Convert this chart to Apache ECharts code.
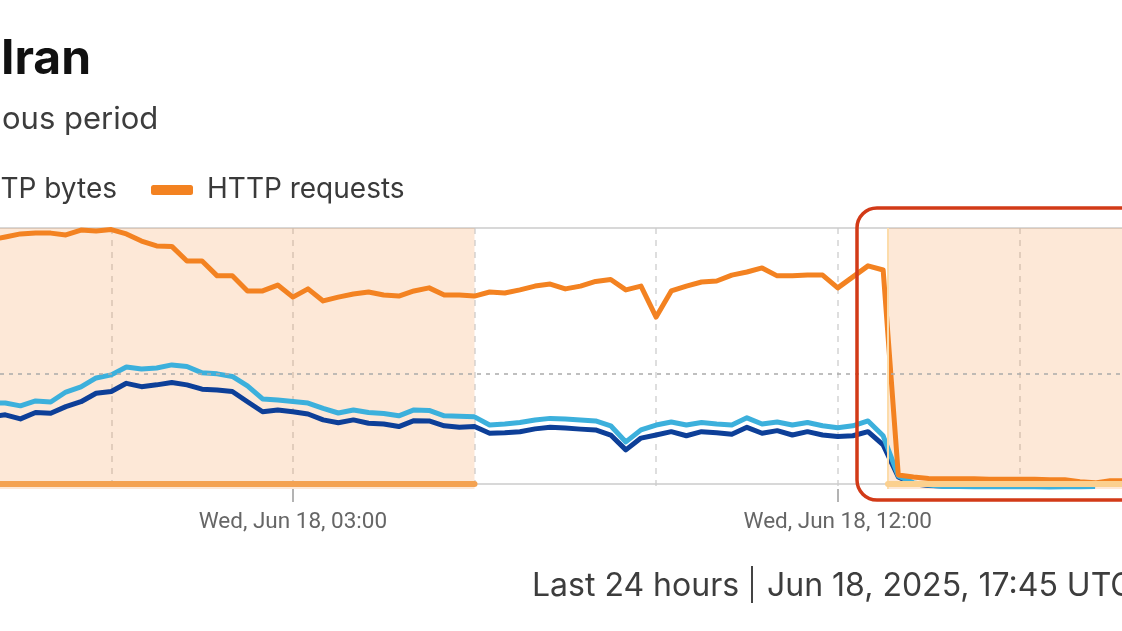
<!DOCTYPE html>
<html>
<head>
<meta charset="utf-8">
<title>Iran - traffic</title>
<script src="https://cdn.jsdelivr.net/npm/echarts@6/dist/echarts.min.js"></script>
<style>
  html, body { margin: 0; padding: 0; background: #fff; }
  #trafficChart { width: 1122px; height: 631px; }
</style>
</head>
<body>
<div id="trafficChart"></div>
<script>
var trafficChart = echarts.init(document.getElementById("trafficChart"));

// hours relative to Jun 18 2025 00:00 UTC, one point every 15 minutes
var startHour = -2;
var stepHours = 0.25;

var totalBytes = [
  26.3, 27.0, 25.4, 27.9, 27.6, 30.2, 32.1, 35.4,
  36.1, 39.3, 38.0, 38.7, 39.6, 38.7, 37.0, 36.7,
  36.1, 32.1, 28.2, 28.9, 28.2, 27.3, 25.0, 23.9,
  25.0, 23.7, 23.4, 22.4, 24.7, 24.6, 22.7, 22.1,
  22.4, 19.8, 20.0, 20.4, 21.5, 22.1, 21.8, 21.4,
  21.1, 19.1, 13.3, 17.9, 19.1, 20.4, 18.8, 20.4,
  20.0, 19.4, 22.1, 19.8, 20.8, 19.1, 20.4, 19.1,
  18.5, 18.8, 20.4, 15.2, 2.7, 0.0, -0.6, -0.8,
  -0.8, -0.8, -0.8, -0.8, -0.8, -0.8, -0.8, -0.8,
  -0.8, -0.8
];
var httpBytes = [
  31.6, 31.6, 30.5, 32.4, 32.0, 35.9, 37.9, 41.4,
  42.6, 45.7, 44.9, 45.3, 46.5, 45.9, 43.4, 43.0,
  42.0, 38.3, 33.2, 32.8, 32.2, 31.6, 29.5, 27.7,
  28.9, 27.9, 27.5, 26.6, 28.9, 28.7, 26.6, 26.4,
  26.2, 23.0, 23.4, 24.0, 25.0, 25.6, 25.4, 25.0,
  24.6, 22.7, 16.4, 21.1, 23.0, 24.2, 23.0, 24.0,
  23.4, 23.0, 25.8, 23.4, 24.2, 23.0, 24.0, 22.7,
  21.9, 22.7, 24.6, 18.8, 3.1, 0.4, -0.4, -1.0,
  -1.0, -1.1, -1.1, -1.0, -1.1, -1.1, -1.2, -1.1,
  -1.1, -1.0
];
var httpRequests = [
  95.3, 96.5, 97.7, 98.0, 98.0, 97.3, 99.2, 98.8,
  99.4, 97.7, 94.9, 93.0, 92.8, 87.1, 87.1, 81.3,
  81.3, 75.4, 75.4, 77.7, 73.0, 76.2, 71.5, 73.0,
  74.2, 75.0, 73.8, 73.4, 75.4, 76.6, 73.8, 73.8,
  73.4, 75.0, 74.6, 75.8, 77.3, 78.1, 76.2, 77.3,
  79.1, 79.9, 75.8, 77.3, 65.2, 75.4, 77.3, 78.9,
  79.3, 81.6, 82.8, 84.4, 81.3, 81.3, 81.6, 81.6,
  76.6, 80.9, 85.2, 83.6, 3.5, 2.7, 2.1, 2.0,
  2.0, 2.0, 1.8, 1.8, 1.8, 1.8, 1.6, 1.6,
  0.8, 0.4, 1.2, 1.2
];

// shaded periods (hours), the second one is the outage
var shadedFrom = [-6, 12.83];
var shadedTo = [6, 18];

var dayNames = ['Sun', 'Mon', 'Tue', 'Wed', 'Thu', 'Fri', 'Sat'];
var monthNames = ['Jan', 'Feb', 'Mar', 'Apr', 'May', 'Jun', 'Jul', 'Aug', 'Sep', 'Oct', 'Nov', 'Dec'];

function pad(n) {
  return n < 10 ? '0' + n : '' + n;
}

function formatHour(h) {
  var d = new Date(Date.UTC(2025, 5, 18) + h * 3600000);
  return dayNames[d.getUTCDay()] + ', ' + monthNames[d.getUTCMonth()] + ' ' + d.getUTCDate() +
    ', ' + pad(d.getUTCHours()) + ':' + pad(d.getUTCMinutes());
}

function toPoints(values) {
  return values.map(function (v, i) {
    return [startHour + i * stepHours, v];
  });
}

option = {
  animation: false,
  backgroundColor: '#fff',
  grid: {
    left: -252,
    right: -79,
    top: 228,
    bottom: 142,
    outerBoundsMode: 'none'
  },
  legend: [
    { // only its tail is on screen
      data: ['HTTP bytes'],
      right: 1005,
      top: 176,
      padding: 0,
      itemWidth: 42,
      itemHeight: 10,
      icon: 'roundRect',
      textStyle: { fontFamily: 'Inter', fontSize: 28, color: '#3a3a3a' }
    },
    {
      data: ['HTTP requests'],
      left: 151,
      top: 176,
      padding: 0,
      itemWidth: 42,
      itemHeight: 10,
      icon: 'roundRect',
      textStyle: {
        fontFamily: 'Inter',
        fontSize: 28,
        color: '#3a3a3a',
        padding: [0, 0, 0, 9]
      }
    }
  ],
  xAxis: [
    { // grid lines every 3 hours
      type: 'value',
      min: -6,
      max: 18,
      interval: 3,
      axisLine: { lineStyle: { color: '#cbcbcb', width: 1.5 } },
      axisTick: { show: false },
      axisLabel: { show: false },
      splitLine: {
        show: true,
        lineStyle: { color: '#d4d4d4', type: [6, 6], width: 1.5 }
      }
    },
    { // labels every 9 hours
      type: 'value',
      min: -6,
      max: 18,
      interval: 9,
      position: 'bottom',
      axisLine: { show: true, lineStyle: { opacity: 0 } },
      axisTick: { show: true, length: 13, lineStyle: { color: '#b3b3b3', width: 2 } },
      axisLabel: {
        margin: 22,
        color: '#666',
        fontFamily: 'Roboto',
        fontSize: 22.5,
        showMinLabel: false,
        showMaxLabel: false,
        formatter: formatHour
      },
      splitLine: { show: false }
    },
    { // top border
      type: 'value',
      min: -6,
      max: 18,
      position: 'top',
      axisLine: { onZero: false, lineStyle: { color: '#cbcbcb', width: 1.5 } },
      axisTick: { show: false },
      axisLabel: { show: false },
      splitLine: { show: false }
    }
  ],
  yAxis: {
    type: 'value',
    min: -2,
    max: 100,
    axisLine: { show: false },
    axisTick: { show: false },
    axisLabel: { show: false },
    splitLine: { show: false }
  },
  series: [
    {
      name: 'Total bytes',
      type: 'line',
      data: toPoints(totalBytes),
      symbol: 'none',
      color: '#0d3f98',
      lineStyle: { color: '#0d3f98', width: 5, join: 'round' },
      markArea: {
        silent: true,
        itemStyle: { color: 'rgba(246,130,31,0.18)' },
        data: [
          [{ xAxis: shadedFrom[0] }, { xAxis: shadedTo[0] }],
          [{ xAxis: shadedFrom[1] }, { xAxis: shadedTo[1] }]
        ]
      },
      markLine: {
        silent: true,
        symbol: ['none', 'none'],
        label: { show: false },
        data: [
          { yAxis: 43, lineStyle: { color: '#aaaaaa', type: [4, 5], width: 1.5 } },
          { xAxis: shadedFrom[1], lineStyle: { color: '#fcdcaa', type: 'solid', width: 2 } },
          [
            { coord: [shadedFrom[0], 0], lineStyle: { color: '#f4a251', type: 'solid', width: 6, cap: 'round' } },
            { coord: [shadedTo[0], 0], lineStyle: { color: '#f4a251', type: 'solid', width: 6, cap: 'round' } }
          ],
          [
            { coord: [shadedFrom[1], 0], lineStyle: { color: '#fbd08f', type: 'solid', width: 6, cap: 'round' } },
            { coord: [shadedTo[1], 0], lineStyle: { color: '#fbd08f', type: 'solid', width: 6, cap: 'round' } }
          ]
        ]
      }
    },
    {
      name: 'HTTP bytes',
      type: 'line',
      data: toPoints(httpBytes),
      symbol: 'none',
      color: '#3cb0dc',
      lineStyle: { color: '#3cb0dc', width: 5, join: 'round' }
    },
    {
      name: 'HTTP requests',
      type: 'line',
      data: toPoints(httpRequests),
      symbol: 'none',
      color: '#f38221',
      lineStyle: { color: '#f38221', width: 5, join: 'round' }
    }
  ],
  graphic: [
    {
      type: 'text',
      x: 1,
      y: 60,
      style: { text: 'Iran', fontFamily: 'Inter', fontWeight: 'bold', fontSize: 48, fill: '#111', verticalAlign: 'middle' }
    },
    {
      type: 'text',
      x: 2,
      y: 120,
      style: { text: 'ous period', fontFamily: 'Inter', fontSize: 31, fill: '#3d3d3d', verticalAlign: 'middle' }
    },
    {
      type: 'text',
      x: 532,
      y: 586,
      style: { text: 'Last 24 hours', fontFamily: 'Inter', fontSize: 32, fill: '#3d3d3d', verticalAlign: 'middle' }
    },
    {
      type: 'line',
      shape: { x1: 752, y1: 566, x2: 752, y2: 603 },
      style: { stroke: '#444', lineWidth: 2 }
    },
    {
      type: 'text',
      x: 767,
      y: 586,
      style: { text: 'Jun 18, 2025, 17:45 UTC', fontFamily: 'Inter', fontSize: 32, fill: '#3d3d3d', verticalAlign: 'middle' }
    },
    { // highlight box
      type: 'rect',
      z: 100,
      shape: { x: 857, y: 208, width: 320, height: 292, r: 20 },
      style: { fill: 'none', stroke: '#d23a17', lineWidth: 3.5 }
    }
  ]
};

if (option && typeof option === "object") {
  trafficChart.setOption(option, true);
}
</script>
</body>
</html>
